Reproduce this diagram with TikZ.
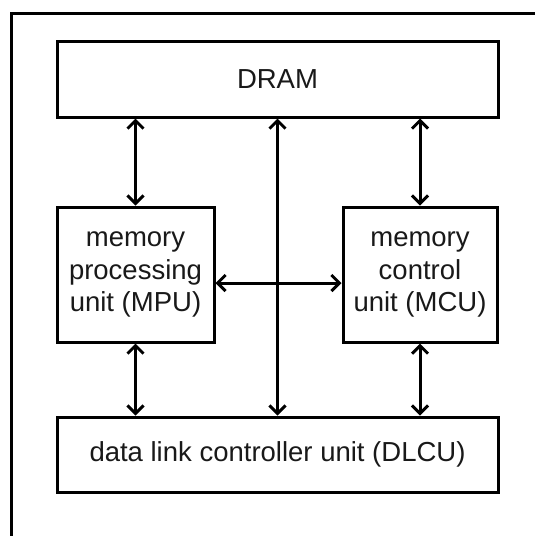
\documentclass[tikz,border=0pt]{standalone}
\usepackage{fontspec}
\setmainfont{Liberation Sans}
\usetikzlibrary{arrows.meta,calc}

\tikzset{
  block/.style={draw=black, line width=3pt, rectangle, inner sep=0pt,
    align=center, text=black!90, font=\fontsize{27.5}{32.5}\selectfont},
  link/.style={line width=3pt, {Straight Barb[length=8pt,width=16pt]}-{Straight Barb[length=8pt,width=16pt]}},
  frame/.style={line width=3pt, line join=miter}
}

\begin{document}
\begin{tikzpicture}[x=1pt, y=-1pt]
  % page area
  \clip (0,0) rectangle (535,536);
  \fill[white] (0,0) rectangle (535,536);

  % outer frame (only its top and left edges fall on the page)
  \draw[frame] (11.5,560) -- (11.5,13.5) -- (560,13.5);

  % blocks
  \node[block, minimum width=441pt, minimum height=76pt] (dram) at (277.5,79) {DRAM};
  \node[block, minimum width=157pt, minimum height=135pt] (mpu) at (135.5,274.5)
    {memory\\processing\\unit (MPU)};
  \node[block, minimum width=154pt, minimum height=135pt] (mcu) at (420,274.5)
    {memory\\control\\unit (MCU)};
  \node[block, minimum width=441pt, minimum height=75pt] (dlcu) at (277.5,454.5)
    {data link controller unit (DLCU)};

  % level of the horizontal link
  \coordinate (hlev) at (0,283);

  % connectors
  \draw[link] (mpu.north) -- (mpu.north |- dram.south);
  \draw[link] (mcu.north) -- (mcu.north |- dram.south);
  \draw[link] (dram.south) -- (dlcu.north);
  \draw[link] (mpu.south) -- (mpu.south |- dlcu.north);
  \draw[link] (mcu.south) -- (mcu.south |- dlcu.north);
  \draw[link] (mpu.east |- hlev) -- (mcu.west |- hlev);
\end{tikzpicture}
\end{document}
